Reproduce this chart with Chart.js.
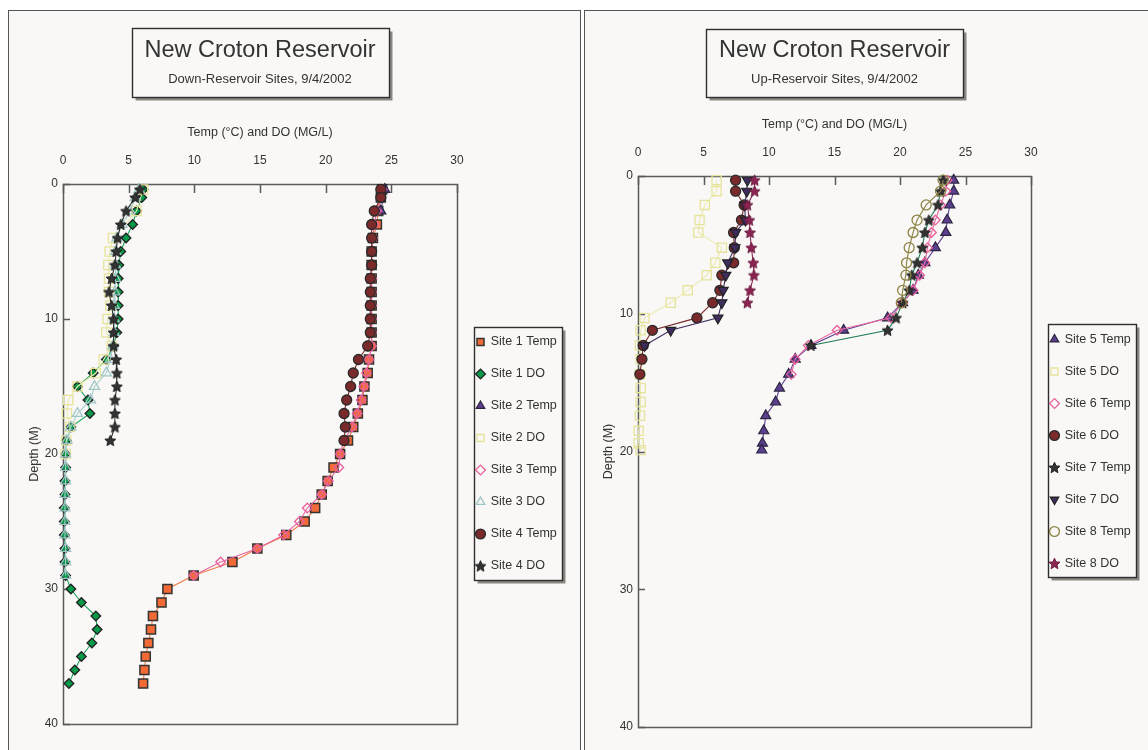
<!DOCTYPE html>
<html><head><meta charset="utf-8">
<script src="https://cdn.jsdelivr.net/npm/chart.js@4.4.0/dist/chart.umd.min.js"></script>
<style>
html,body{margin:0;padding:0;background:#fff;width:1148px;height:750px;overflow:hidden;}
.panel{position:absolute;background:#f9f8f6;border:1px solid #555;box-sizing:border-box;}
#p1{left:8px;top:10px;width:573px;height:760px;}
#p2{left:584px;top:10px;width:580px;height:760px;}
canvas{position:absolute;top:0;}
#c1{left:0;}
#c2{left:582px;}
</style></head><body>
<div class="panel" id="p1"></div><div class="panel" id="p2"></div>
<canvas id="c1" width="580" height="750"></canvas>
<canvas id="c2" width="566" height="750"></canvas>
<script>
// ---------- DATA ----------
const xTickLabels = [0, 5, 10, 15, 20, 25, 30];
const depthTickLabels = [0, 10, 20, 30, 40];

// Down-reservoir sites
const s1Depth = [0.4,1,2,3,4,5,6,7,8,9,10,11,12,13,14,15,16,17,18,19,20,21,22,23,24,25,26,27,28,29,30,31,32,33,34,35,36,37];
const s1Temp  = [24.3,24.2,24.0,23.9,23.6,23.5,23.5,23.5,23.5,23.5,23.5,23.5,23.5,23.3,23.2,22.95,22.8,22.45,22.1,21.7,21.1,20.6,20.15,19.7,19.2,18.4,17.0,14.8,12.9,9.95,7.95,7.5,6.85,6.7,6.5,6.3,6.2,6.1];
const s1DO    = [6.1,6.0,5.6,5.3,4.8,4.4,4.25,4.2,4.2,4.2,4.2,4.1,3.85,3.3,2.3,1.1,1.9,2.05,0.6,0.26,0.2,0.2,0.15,0.15,0.1,0.1,0.1,0.15,0.15,0.2,0.6,1.4,2.5,2.6,2.2,1.4,0.9,0.45];

const s2TempDepth = [0.4,2];
const s2Temp      = [24.5,24.2];
const s2DODepth   = [0.4,2,4,5,6,7,8,9,10,11,12,13,14,15,16,17,18,19,20];
const s2DO        = [6.1,5.6,3.8,3.55,3.45,3.5,3.5,3.6,3.4,3.3,3.7,3.1,2.5,1.1,0.4,0.3,0.55,0.25,0.2];

const s3Depth = [0.4,1,2,3,4,5,6,7,8,9,10,11,12,13,14,15,16,17,18,19,20,21,22,23,24,25,26,27,28,29];
const s3Temp  = [24.3,24.2,23.9,23.7,23.6,23.5,23.5,23.5,23.5,23.5,23.5,23.5,23.5,23.3,23.1,22.9,22.7,22.4,22.0,21.4,21.1,21.0,20.2,19.7,18.6,18.0,16.8,14.8,12.0,9.95];
const s3DO    = [5.8,5.5,5.1,4.5,4.1,4.0,4.0,4.0,3.95,3.9,3.9,3.9,3.8,3.6,3.3,2.4,2.1,1.1,0.6,0.3,0.2,0.2,0.2,0.15,0.15,0.15,0.15,0.2,0.2,0.2];

const s4Depth = [0.4,1,2,3,4,5,6,7,8,9,10,11,12,13,14,15,16,17,18,19];
const s4Temp  = [24.2,24.2,23.7,23.5,23.5,23.5,23.5,23.4,23.4,23.4,23.4,23.4,23.2,22.5,22.1,21.9,21.6,21.4,21.5,21.4];
const s4DO    = [5.85,5.5,4.8,4.4,4.15,4.05,3.95,3.7,3.5,3.7,3.85,3.85,3.85,4.05,4.1,4.1,3.95,3.95,3.95,3.6];

// Up-reservoir sites
const s5Depth = [0.3,1.1,2.1,3.2,4.1,5.2,6.3,7.2,8.3,9.2,10.3,11.2,12.3,13.3,14.4,15.4,16.4,17.4,18.5,19.4,19.9];
const s5Temp  = [24.1,24.1,23.8,23.6,23.5,22.7,21.9,21.4,21.0,20.2,19.05,15.7,13.2,12.0,11.5,10.8,10.5,9.75,9.6,9.5,9.45];
const s5DO    = [6.0,6.0,5.1,4.7,4.6,6.4,5.9,5.25,3.8,2.5,0.5,0.2,0.15,0.2,0.15,0.2,0.2,0.15,0.05,0.05,0.2];

const s6Depth = [0.3,1.1,2.1,3.2,4.1,5.2,6.3,7.2,8.3,9.2,10.3,11.2,12.3,13.3,14.4];
const s6Temp  = [23.6,23.5,23.1,22.7,22.4,22.1,21.9,21.5,21.0,20.2,19.3,15.2,13.0,12.0,11.7];
const s6DO    = [7.45,7.45,8.1,7.9,7.3,7.35,7.3,6.4,6.25,5.7,4.5,1.1,0.4,0.3,0.14];

const s7Depth = [0.3,1.1,2.1,3.2,4.1,5.2,6.3,7.2,8.3,9.2,10.3,11.2,12.3];
const s7Temp  = [23.3,23.1,22.9,22.2,21.9,21.7,21.3,20.9,20.7,20.2,19.7,19.05,13.2];
const s7DO    = [8.35,8.3,8.15,8.2,7.45,7.4,6.85,6.7,6.5,6.4,6.1,2.5,0.5];

const s8Depth = [0.3,1.1,2.1,3.2,4.1,5.2,6.3,7.2,8.3,9.2];
const s8Temp  = [23.3,23.1,22.0,21.3,21.0,20.7,20.5,20.45,20.2,20.1];
const s8DO    = [8.9,8.9,8.35,8.5,8.55,8.65,8.8,8.85,8.55,8.35];

// ---------- STYLE ----------
const FONT = '"Liberation Sans", Arial, Helvetica, sans-serif';
Chart.defaults.font.family = FONT;
Chart.defaults.color = '#333';
const PANEL = '#f9f8f6';
const NONE = 'rgba(0,0,0,0)';

function starImg(fill, edge, R) {
  const s = Math.ceil(R * 2 + 3);
  const c = document.createElement('canvas');
  c.width = s; c.height = s;
  const g = c.getContext('2d');
  g.translate(s / 2, s / 2 + 0.5);
  g.beginPath();
  for (let i = 0; i < 10; i++) {
    const r = i % 2 ? R * 0.45 : R;
    const a = -Math.PI / 2 + i * Math.PI / 5;
    g.lineTo(r * Math.cos(a), r * Math.sin(a));
  }
  g.closePath();
  g.fillStyle = fill; g.fill();
  g.lineWidth = 1; g.strokeStyle = edge; g.stroke();
  return c;
}

const ST = {
  orangeSq:  {shape:'rect', r:6.4, fill:'#f26a36', edge:'#333', bw:1.5, line:'#f27a48'},
  greenDia:  {shape:'rectRot', r:4.8, fill:'#079a48', edge:'#222', bw:1.3, line:'#1ea35e'},
  purpleTri: {shape:'triangle', r:5.8, fill:'#5c3f8e', edge:'#2c2540', bw:1.2, line:'#5c3f8e'},
  yellowSq:  {shape:'rect', r:6.5, fill:NONE, edge:'#e6e49a', bw:1.3, line:'#ebeaae'},
  pinkDia:   {shape:'rectRot', r:4.8, fill:NONE, edge:'#e8609c', bw:1.3, line:'#e8679f'},
  blueTri:   {shape:'triangle', r:5.8, fill:NONE, edge:'#9fc6c6', bw:1.3, line:'#a9cdcd'},
  redCirc:   {shape:'circle', r:5, fill:'#7b2a2c', edge:'#2a2a2a', bw:1.3, line:'#7b2a2c'},
  blackStar: {shape:starImg('#333', '#1e1e1e', 5.8), r:5, fill:'#333', edge:'#1e1e1e', bw:1, line:'#333'},
  greenStar: {shape:starImg('#333', '#1e1e1e', 5.8), r:5, fill:'#333', edge:'#1e1e1e', bw:1, line:'#1f7a58'},
  navyTriDn: {shape:'triangle', rot:180, r:5.8, fill:'#3f2d5f', edge:'#222', bw:1.2, line:'#3f2d5f'},
  oliveCirc: {shape:'circle', r:5, fill:NONE, edge:'#8b8242', bw:1.3, line:'#8b8242'},
  maroonStar:{shape:starImg('#8c2453', '#6a1a3f', 5.8), r:5, fill:'#8c2453', edge:'#6a1a3f', bw:1, line:'#8c2453'}
};

function series(label, depths, vals, st) {
  return {
    label,
    data: depths.map((d, i) => ({x: vals[i], y: d})),
    showLine: true,
    borderColor: st.line, backgroundColor: st.fill, borderWidth: 1.1,
    pointStyle: st.shape, pointRadius: st.r, pointHoverRadius: st.r,
    pointBackgroundColor: st.fill, pointBorderColor: st.edge,
    pointBorderWidth: st.bw, pointRotation: st.rot || 0,
    clip: 10
  };
}

function drawBox(ctx, x, y, w, h) {
  x = Math.round(x) + 0.5; y = Math.round(y) + 0.5; w = Math.round(w); h = Math.round(h);
  ctx.fillStyle = '#8d8781'; ctx.fillRect(x + 3, y + 3, w, h);
  ctx.fillStyle = PANEL; ctx.fillRect(x, y, w, h);
  ctx.strokeStyle = '#2e2e2e'; ctx.lineWidth = 1.4; ctx.strokeRect(x, y, w, h);
}

const frame = {
  id: 'frame',
  beforeDraw(chart, args, o) {
    const ctx = chart.ctx, ca = chart.chartArea;
    ctx.save();
    const bx = (ca.left + ca.right) / 2 - o.boxW / 2;
    drawBox(ctx, bx, o.boxY, o.boxW, o.boxH);
    const hb = chart.legend && chart.legend.legendHitBoxes;
    if (hb && hb.length) {
      const l = Math.min(...hb.map(h => h.left)) - 3;
      const r = Math.max(...hb.map(h => h.left + h.width)) + 5;
      const t = Math.min(...hb.map(h => h.top)) - 9;
      const b = Math.max(...hb.map(h => h.top + h.height)) + 7;
      drawBox(ctx, l, t, r - l, b - t);
    }
    ctx.restore();
  },
  beforeDatasetsDraw(chart) {
    const ctx = chart.ctx, ca = chart.chartArea;
    const xs = chart.scales.x, ys = chart.scales.y;
    ctx.save();
    ctx.strokeStyle = '#5a5a5a'; ctx.lineWidth = 1.5;
    ctx.beginPath();
    xs.ticks.forEach(t => { const p = Math.round(xs.getPixelForValue(t.value)) + 0.5; ctx.moveTo(p, ca.top); ctx.lineTo(p, ca.top + 9); });
    ys.ticks.forEach(t => { const p = Math.round(ys.getPixelForValue(t.value)) + 0.5; ctx.moveTo(ca.left, p); ctx.lineTo(ca.left + 7, p); });
    ctx.stroke();
    ctx.strokeRect(Math.round(ca.left) + 0.5, Math.round(ca.top) + 0.5, Math.round(ca.width), Math.round(ca.height));
    ctx.restore();
  }
};

const legendWidth = {
  id: 'legendWidth',
  afterInit(chart, args, o) {
    const lg = chart.legend;
    const orig = lg.fit.bind(lg);
    lg.fit = function () { orig(); if (!this.isHorizontal()) this.width = o.width; };
  }
};

function makeChart(id, c) {
  const n = c.datasets.length;
  c.datasets.forEach((d, i) => { d.order = n - i; });
  return new Chart(document.getElementById(id), {
    type: 'scatter',
    data: { datasets: c.datasets },
    options: {
      responsive: false, animation: false, events: [],
      layout: { padding: { left: 0, right: 0, top: 0, bottom: c.padBottom } },
      plugins: {
        title: { display: true, text: c.title, fullSize: false, color: '#333',
                 font: { size: 23.5, weight: 'normal', lineHeight: '28px' }, padding: { top: 37, bottom: 0 } },
        subtitle: { display: true, text: c.subtitle, fullSize: false, color: '#333',
                 font: { size: 13, weight: 'normal', lineHeight: '16px' }, padding: { top: 6, bottom: 0 } },
        legend: { position: 'right', align: 'center', fullSize: false,
                  labels: { usePointStyle: true, boxWidth: 8, boxHeight: 7, padding: 19.5, color: '#333',
                            font: { size: 12.5 },
                            sort: (a, b) => a.datasetIndex - b.datasetIndex } },
        tooltip: { enabled: false },
        frame: { boxW: 257, boxY: c.boxY, boxH: c.boxH },
        legendWidth: { width: c.legendW }
      },
      scales: {
        x: { type: 'linear', position: 'top', min: 0, max: 30,
             afterBuildTicks(s) { s.ticks = xTickLabels.map(v => ({ value: v })); },
             ticks: { padding: 16, color: '#333', font: { size: 12 } },
             grid: { display: false, drawTicks: false }, border: { display: false },
             title: { display: true, text: 'Temp (°C) and DO (MG/L)', color: '#333',
                      font: { size: 12.5, lineHeight: '16px' }, padding: { top: c.xTitlePad, bottom: 0 } },
             afterFit(s) { s.height = c.xHeight; } },
        y: { type: 'linear', position: 'left', reverse: true, min: 0, max: 40,
             afterBuildTicks(s) { s.ticks = depthTickLabels.map(v => ({ value: v })); },
             ticks: { padding: 5, color: '#333', font: { size: 12 } },
             grid: { display: false, drawTicks: false }, border: { display: false },
             title: { display: true, text: 'Depth (M)', color: '#333',
                      font: { size: 12.5, lineHeight: '16px' }, padding: { top: c.yTitlePad, bottom: 0 } },
             afterFit(s) { s.width = c.yWidth; } }
      }
    },
    plugins: [frame, legendWidth]
  });
}

makeChart('c1', {
  title: 'New Croton Reservoir', subtitle: 'Down-Reservoir Sites, 9/4/2002',
  padBottom: 26, xHeight: 97, xTitlePad: 38, yWidth: 63, yTitlePad: 27, legendW: 123,
  boxY: 28, boxH: 69,
  datasets: [
    series('Site 1 Temp', s1Depth, s1Temp, ST.orangeSq),
    series('Site 1 DO', s1Depth, s1DO, ST.greenDia),
    series('Site 2 Temp', s2TempDepth, s2Temp, ST.purpleTri),
    series('Site 2 DO', s2DODepth, s2DO, ST.yellowSq),
    series('Site 3 Temp', s3Depth, s3Temp, ST.pinkDia),
    series('Site 3 DO', s3Depth, s3DO, ST.blueTri),
    series('Site 4 Temp', s4Depth, s4Temp, ST.redCirc),
    series('Site 4 DO', s4Depth, s4DO, ST.blackStar)
  ]
});

makeChart('c2', {
  title: 'New Croton Reservoir', subtitle: 'Up-Reservoir Sites, 9/4/2002',
  padBottom: 23, xHeight: 89, xTitlePad: 30, yWidth: 56, yTitlePad: 19, legendW: 117,
  boxY: 29, boxH: 68,
  datasets: [
    series('Site 5 Temp', s5Depth, s5Temp, ST.purpleTri),
    series('Site 5 DO', s5Depth, s5DO, ST.yellowSq),
    series('Site 6 Temp', s6Depth, s6Temp, ST.pinkDia),
    series('Site 6 DO', s6Depth, s6DO, ST.redCirc),
    series('Site 7 Temp', s7Depth, s7Temp, ST.greenStar),
    series('Site 7 DO', s7Depth, s7DO, ST.navyTriDn),
    series('Site 8 Temp', s8Depth, s8Temp, ST.oliveCirc),
    series('Site 8 DO', s8Depth, s8DO, ST.maroonStar)
  ]
});
</script>
</body></html>
